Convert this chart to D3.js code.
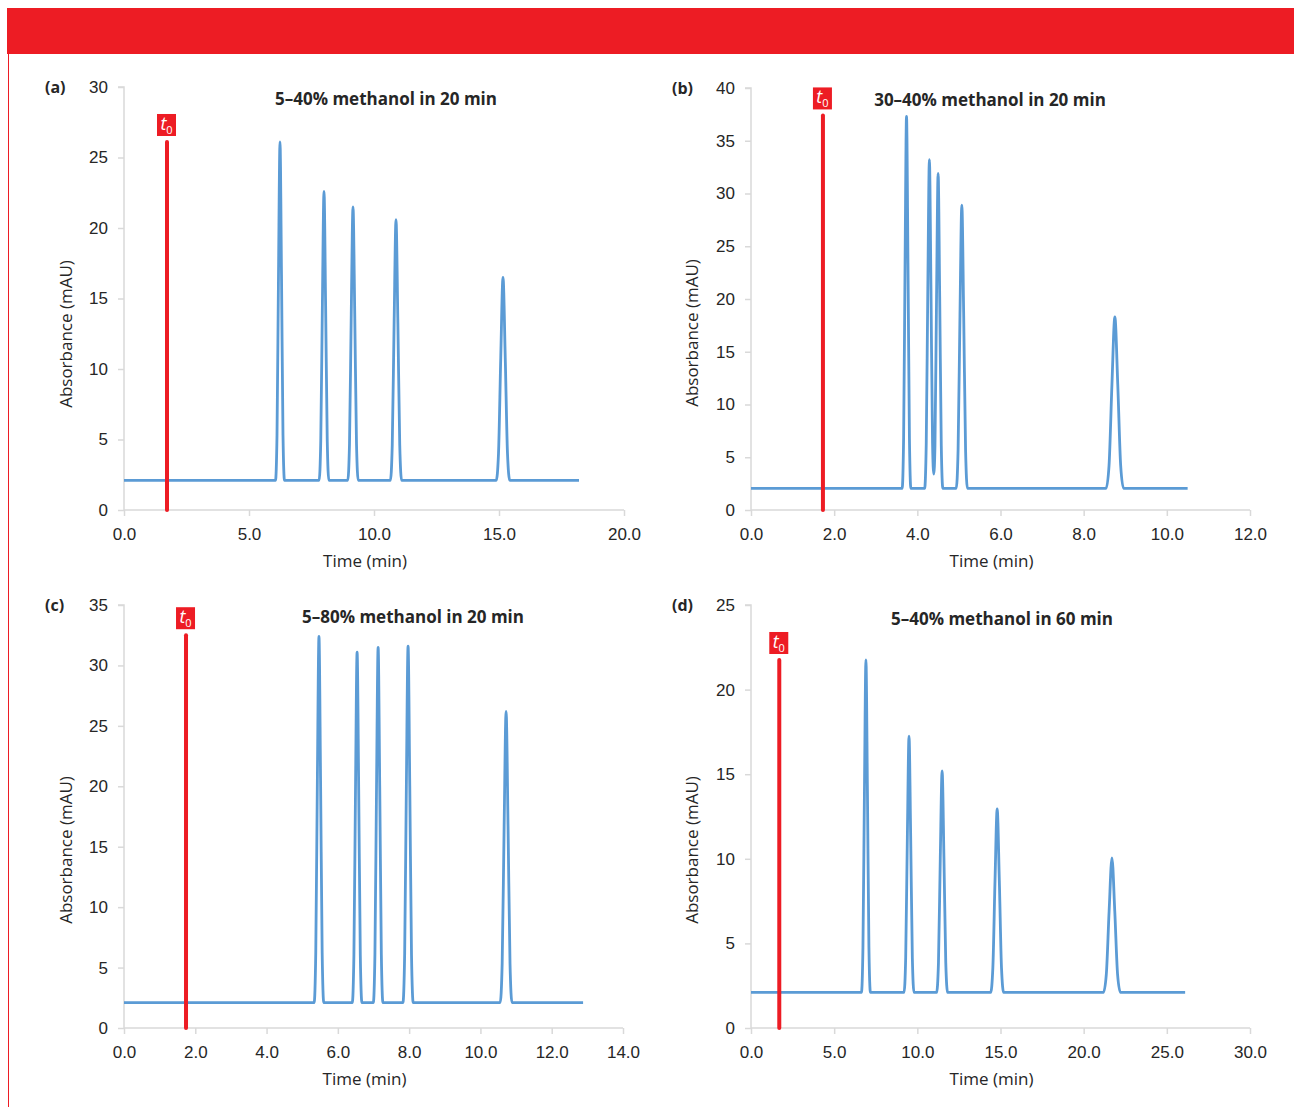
<!DOCTYPE html>
<html>
<head>
<meta charset="utf-8">
<script src="https://cdn.jsdelivr.net/npm/d3@7"></script>
<style>
  body { margin: 0; background: #fff; }
  svg { display: block; font-family: "Open Sans", "Noto Sans", sans-serif; }
  .axis path, .axis line { stroke: #d9d9d9; stroke-width: 1.5; }
  .axis text { fill: #262626; font-size: 17px; }
</style>
</head>
<body>
<svg id="chart" width="1294" height="1107"></svg>
<script>
// chromatogram traces [time (min), absorbance (mAU)]
const traceA = [
  [0, 2.1], [6.06, 2.1], [6.12, 5.3], [6.18, 16.7], [6.24, 26.1], [6.30, 16.7], [6.36, 5.3], [6.42, 2.1],
  [7.805, 2.1], [7.87, 4.9], [7.935, 14.5], [8.0, 22.6], [8.065, 14.5], [8.13, 4.9], [8.195, 2.1],
  [8.95, 2.1], [9.02, 4.7], [9.09, 13.9], [9.16, 21.5], [9.23, 13.9], [9.30, 4.7], [9.37, 2.1],
  [10.655, 2.1], [10.73, 4.6], [10.805, 13.3], [10.88, 20.6], [10.955, 13.3], [11.03, 4.6], [11.105, 2.1],
  [14.89, 2.1], [14.98, 4.0], [15.07, 10.8], [15.16, 16.5], [15.25, 10.8], [15.34, 4.0], [15.43, 2.1],
  [18.2, 2.1]
];
const traceB = [
  [0, 2.05], [3.635, 2.05], [3.67, 6.8], [3.705, 23.4], [3.74, 37.3], [3.775, 23.4], [3.81, 6.8], [3.845, 2.05],
  [4.176, 2.05], [4.214, 6.25], [4.252, 21.0], [4.29, 33.2], [4.328, 21.0], [4.366, 6.3], [4.395, 3.4],
  [4.424, 6.1], [4.462, 20.2], [4.50, 31.9], [4.538, 20.2], [4.576, 6.1], [4.614, 2.05],
  [4.935, 2.05], [4.98, 5.7], [5.025, 18.4], [5.07, 28.9], [5.115, 18.4], [5.16, 5.7], [5.205, 2.05],
  [8.54, 2.05], [8.61, 4.2], [8.68, 11.9], [8.75, 18.3], [8.82, 11.9], [8.89, 4.2], [8.96, 2.05],
  [10.5, 2.05]
];
const traceC = [
  [0, 2.1], [5.335, 2.1], [5.38, 6.2], [5.425, 20.5], [5.47, 32.4], [5.515, 20.5], [5.56, 6.2], [5.605, 2.1],
  [6.405, 2.1], [6.45, 6.0], [6.495, 19.7], [6.54, 31.1], [6.585, 19.7], [6.63, 6.0], [6.675, 2.1],
  [6.995, 2.1], [7.04, 6.1], [7.085, 20.0], [7.13, 31.5], [7.175, 20.0], [7.22, 6.1], [7.265, 2.1],
  [7.826, 2.1], [7.874, 6.1], [7.922, 20.0], [7.97, 31.6], [8.018, 20.0], [8.066, 6.1], [8.114, 2.1],
  [10.555, 2.1], [10.61, 5.35], [10.665, 16.7], [10.72, 26.2], [10.775, 16.7], [10.83, 5.35], [10.885, 2.1],
  [12.88, 2.1]
];
const traceD = [
  [0, 2.1], [6.64, 2.1], [6.73, 4.75], [6.82, 14.0], [6.91, 21.75], [7.0, 14.0], [7.09, 4.75], [7.18, 2.1],
  [9.2, 2.1], [9.3, 4.15], [9.4, 11.3], [9.5, 17.25], [9.6, 11.3], [9.7, 4.15], [9.8, 2.1],
  [11.16, 2.1], [11.27, 3.85], [11.38, 10.05], [11.49, 15.2], [11.6, 10.05], [11.71, 3.85], [11.82, 2.1],
  [14.41, 2.1], [14.54, 3.55], [14.67, 8.7], [14.8, 12.95], [14.93, 8.7], [15.06, 3.55], [15.19, 2.1],
  [21.19, 2.1], [21.36, 3.15], [21.53, 6.9], [21.7, 10.05], [21.87, 6.9], [22.04, 3.15], [22.21, 2.1],
  [26.1, 2.1]
];

const panelLetters = ["(a)", "(b)", "(c)", "(d)"];
const panelTitles = [
  "5–40% methanol in 20 min",
  "30–40% methanol in 20 min",
  "5–80% methanol in 20 min",
  "5–40% methanol in 60 min"
];
const t0Times = [1.72, 1.73, 1.74, 1.70];
const t0Heights = [26.1, 37.4, 32.5, 21.75];
const xMaxes = [20, 12, 14, 30];
const xSteps = [5, 2, 2, 5];
const yMaxes = [30, 40, 35, 25];
const ySteps = [5, 5, 5, 5];

const traces = [traceA, traceB, traceC, traceD];

const red = "#ed1c24";
const blue = "#5b9bd5";

const svg = d3.select("#chart");

// red banner across the top + thin rule down the left edge
svg.append("rect").attr("x", 7).attr("y", 8).attr("width", 1287).attr("height", 46).attr("fill", red);
svg.append("line").attr("x1", 8.5).attr("x2", 8.5).attr("y1", 54).attr("y2", 1107)
  .attr("stroke", red).attr("stroke-width", 1);

// plot boxes: left, right, top, bottom
const boxes = [
  { l: 124, r: 624, t: 87, b: 510, titleX: 386, titleY: 105, ytx: 66, yty: 334 },
  { l: 751, r: 1250, t: 88, b: 510, titleX: 990, titleY: 106, ytx: 692, yty: 333 },
  { l: 124, r: 623, t: 605, b: 1028, titleX: 413, titleY: 623, ytx: 66, yty: 850 },
  { l: 751, r: 1250, t: 605, b: 1028, titleX: 1002, titleY: 625, ytx: 692, yty: 850 }
];

boxes.forEach((bx, i) => {
  const g = svg.append("g");
  const x = d3.scaleLinear().domain([0, xMaxes[i]]).range([bx.l, bx.r]);
  const y = d3.scaleLinear().domain([0, yMaxes[i]]).range([bx.b, bx.t]);

  const yAxis = d3.axisLeft(y)
    .tickValues(d3.range(0, yMaxes[i] + 0.001, ySteps[i]))
    .tickSize(6).tickPadding(10).tickFormat(d3.format("d"));
  g.append("g").attr("class", "axis").attr("transform", `translate(${bx.l},0)`)
    .call(yAxis).call(s => s.select(".domain").attr("d", `M-6,${bx.t}H0V${bx.b}`));

  const xAxis = d3.axisBottom(x)
    .tickValues(d3.range(0, xMaxes[i] + 0.001, xSteps[i]))
    .tickSize(6).tickPadding(12).tickFormat(d3.format(".1f"));
  g.append("g").attr("class", "axis").attr("transform", `translate(0,${bx.b})`)
    .call(xAxis).call(s => s.select(".domain").attr("d", `M${bx.l},0H${bx.r}`));

  // trace
  const line = d3.line().x(d => x(d[0])).y(d => y(d[1])).curve(d3.curveMonotoneX);
  g.append("path").datum(traces[i])
    .attr("d", line).attr("fill", "none")
    .attr("stroke", blue).attr("stroke-width", 2.8).attr("stroke-linejoin", "round");

  // t0 marker
  const tx = x(t0Times[i]);
  const ty = y(t0Heights[i]);
  g.append("line").attr("x1", tx).attr("x2", tx).attr("y1", ty).attr("y2", bx.b)
    .attr("stroke", red).attr("stroke-width", 4).attr("stroke-linecap", "round");
  g.append("rect").attr("x", tx - 10).attr("y", ty - 28).attr("width", 19).attr("height", 22)
    .attr("fill", red);
  const tl = g.append("text").attr("x", tx - 0.5).attr("y", ty - 12)
    .attr("text-anchor", "middle").attr("fill", "#fff").attr("font-size", 18);
  tl.append("tspan").attr("font-style", "italic").text("t");
  tl.append("tspan").attr("font-size", 11).attr("dy", 4).text("0");

  // texts
  g.append("text").attr("x", bx.titleX).attr("y", bx.titleY)
    .attr("text-anchor", "middle").attr("font-weight", "bold").attr("font-size", 17)
    .attr("fill", "#262626").text(panelTitles[i]);
  g.append("text").attr("x", bx.l - 79).attr("y", bx.t + 6)
    .attr("font-weight", "bold").attr("font-size", 16).attr("fill", "#262626")
    .text(panelLetters[i]);
  g.append("text").attr("transform", `translate(${bx.ytx},${bx.yty}) rotate(-90)`)
    .attr("text-anchor", "middle").attr("dy", "0.35em").attr("font-size", 17)
    .attr("fill", "#262626").text("Absorbance (mAU)");
  g.append("text").attr("x", (bx.l + bx.r) / 2 - 9).attr("y", bx.b + 57)
    .attr("text-anchor", "middle").attr("font-size", 17)
    .attr("fill", "#262626").text("Time (min)");
});
</script>
</body>
</html>
